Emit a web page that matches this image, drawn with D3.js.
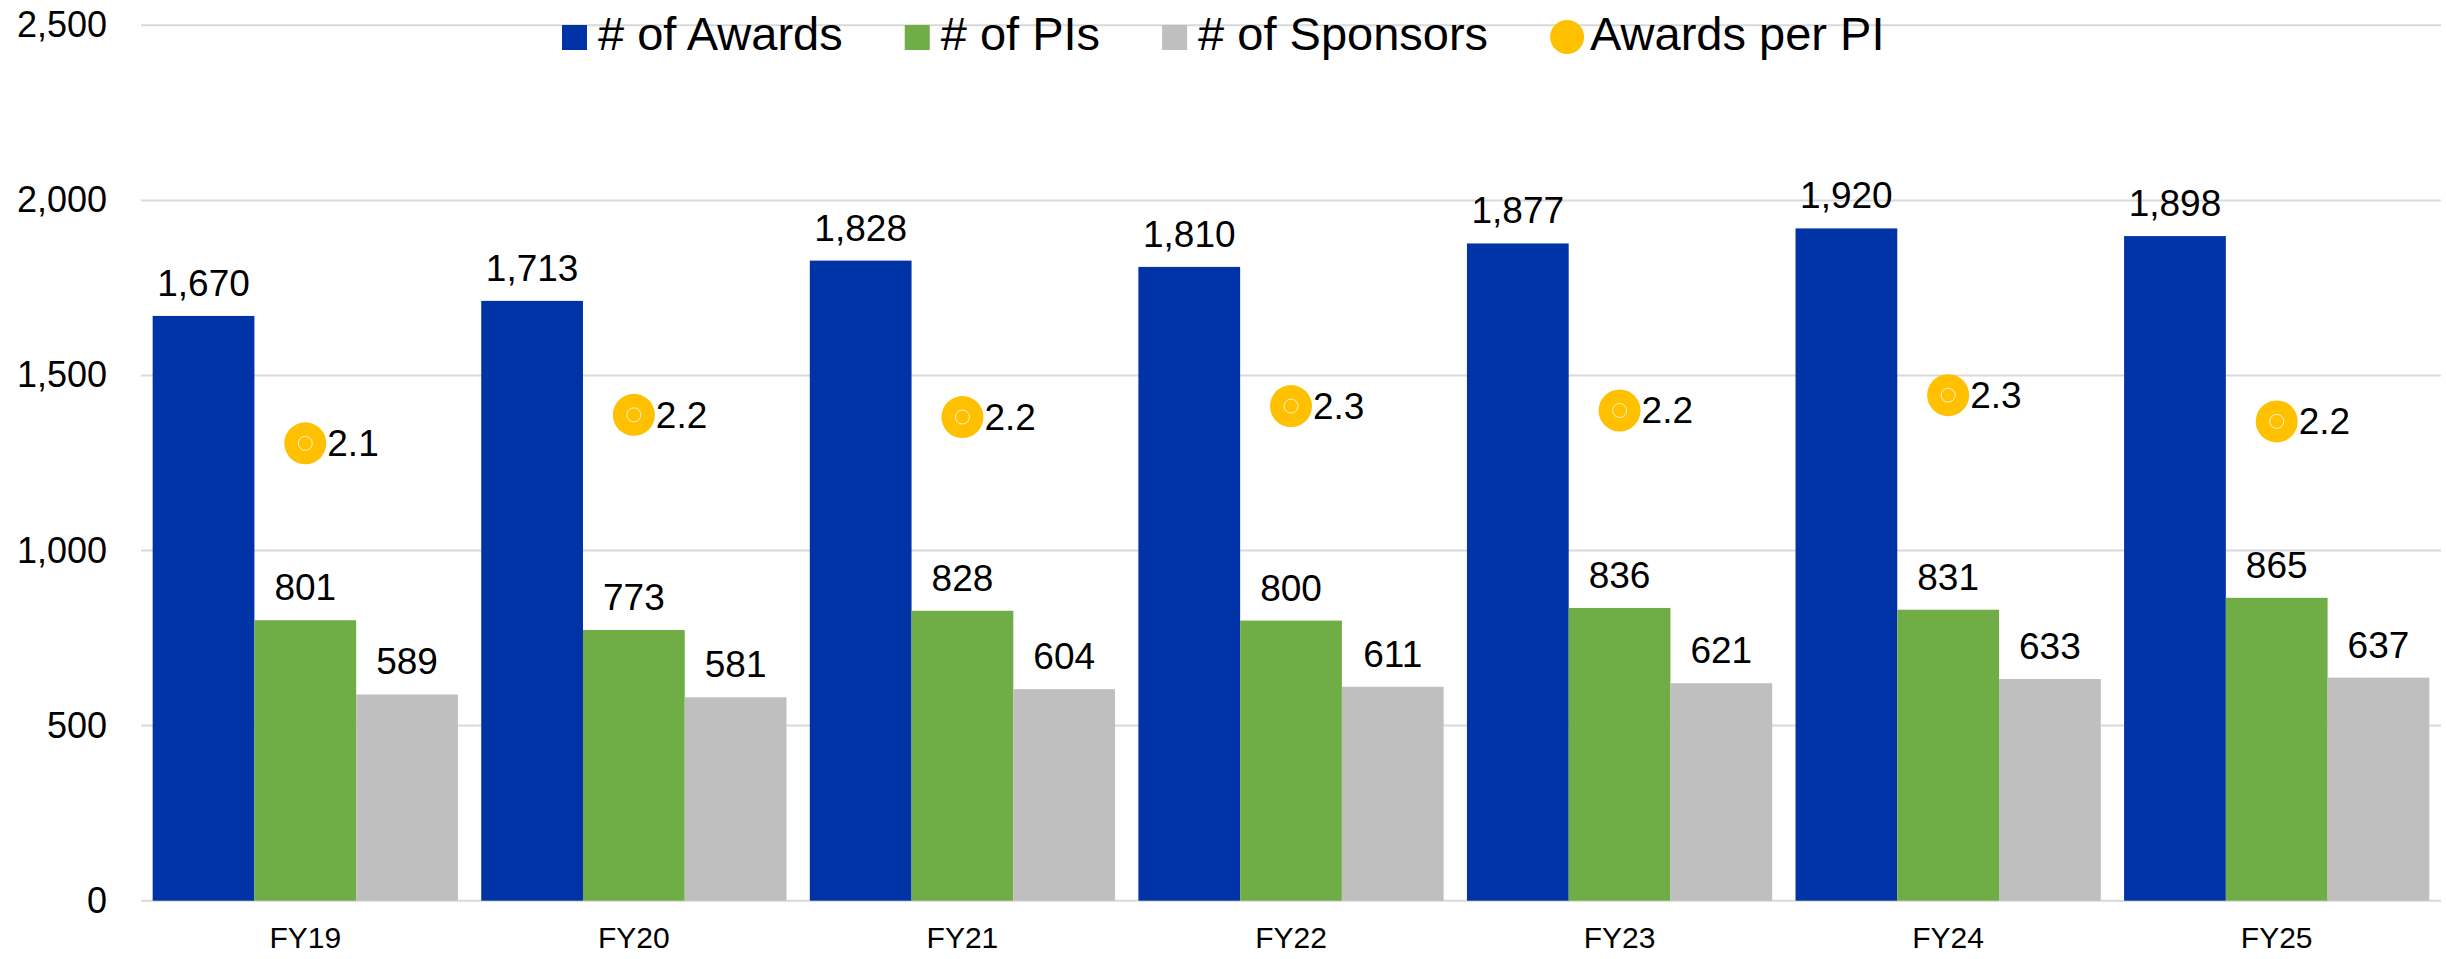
<!DOCTYPE html>
<html>
<head>
<meta charset="utf-8">
<script src="https://cdn.jsdelivr.net/npm/d3@7"></script>
<style>
  body { margin: 0; background: #fff; }
  text { font-family: "Liberation Sans", Arial, sans-serif; fill: #000; }
</style>
</head>
<body>
<div class="chart"></div>
<script>
// chart data
var years = ["FY19", "FY20", "FY21", "FY22", "FY23", "FY24", "FY25"];
var awards = [1670, 1713, 1828, 1810, 1877, 1920, 1898];
var pis = [801, 773, 828, 800, 836, 831, 865];
var sponsors = [589, 581, 604, 611, 621, 633, 637];
var awardsPerPI = [2.09, 2.22, 2.21, 2.26, 2.24, 2.31, 2.19];
var yTicks = [0, 500, 1000, 1500, 2000, 2500];

var seriesNames = ["# of Awards", "# of PIs", "# of Sponsors"];
var seriesColors = ["#0033a6", "#70ad47", "#bfbfbf"];
var lineName = "Awards per PI";
var lineColor = "#ffc000";

var svgWidth = 2446;
var svgHeight = 959;
var margin = { top: 25.3, right: 5, bottom: 58.3, left: 141 };
var width = svgWidth - margin.left - margin.right;
var height = svgHeight - margin.top - margin.bottom;

var svg = d3.select(".chart")
  .append("svg")
  .attr("width", svgWidth)
  .attr("height", svgHeight);

var chart = svg.append("g")
  .attr("transform", "translate(" + margin.left + "," + margin.top + ")");

// scales
var xScale = d3.scaleBand()
  .domain(years)
  .range([0, width])
  .paddingInner(0.071)
  .paddingOuter(0.0355);

var xSub = d3.scaleBand()
  .domain(d3.range(3))
  .range([0, xScale.bandwidth()]);

var yScale = d3.scaleLinear()
  .domain([0, 2500])
  .range([height, 0]);

// hidden secondary axis for the ratio
var y2Scale = d3.scaleLinear()
  .domain([0, 4])
  .range([height, 0]);

// gridlines
chart.append("g")
  .selectAll("line")
  .data(yTicks)
  .enter()
  .append("line")
  .attr("x1", 0)
  .attr("x2", width)
  .attr("y1", function(d) { return yScale(d); })
  .attr("y2", function(d) { return yScale(d); })
  .attr("stroke", "#d9d9d9")
  .attr("stroke-width", 2);

// y axis labels
var leftAxis = d3.axisLeft(yScale)
  .tickValues(yTicks)
  .tickSize(0)
  .tickPadding(34)
  .tickFormat(d3.format(","));

chart.append("g")
  .call(leftAxis)
  .call(function(g) { g.select(".domain").remove(); })
  .selectAll("text")
  .attr("font-size", "36px")
  .attr("font-family", "Liberation Sans, Arial, sans-serif")
  .attr("fill", "#000");

// x axis labels
var bottomAxis = d3.axisBottom(xScale).tickSize(0).tickPadding(26);

chart.append("g")
  .attr("transform", "translate(0," + height + ")")
  .call(bottomAxis)
  .call(function(g) { g.select(".domain").remove(); })
  .selectAll("text")
  .attr("font-size", "30px")
  .attr("font-family", "Liberation Sans, Arial, sans-serif")
  .attr("fill", "#000");

// bars
var rows = years.map(function(y, i) {
  return { year: y, values: [awards[i], pis[i], sponsors[i]], ratio: awardsPerPI[i] };
});

var groups = chart.selectAll(".group")
  .data(rows)
  .enter()
  .append("g")
  .attr("class", "group")
  .attr("transform", function(d) { return "translate(" + xScale(d.year) + ",0)"; });

groups.selectAll("rect")
  .data(function(d) { return d.values; })
  .enter()
  .append("rect")
  .attr("x", function(d, i) { return xSub(i); })
  .attr("y", function(d) { return yScale(d); })
  .attr("width", xSub.bandwidth())
  .attr("height", function(d) { return height - yScale(d); })
  .attr("fill", function(d, i) { return seriesColors[i]; });

groups.selectAll(".barLabel")
  .data(function(d) { return d.values; })
  .enter()
  .append("text")
  .attr("class", "barLabel")
  .attr("x", function(d, i) { return xSub(i) + xSub.bandwidth() / 2; })
  .attr("y", function(d) { return yScale(d) - 20; })
  .attr("text-anchor", "middle")
  .attr("font-size", "37px")
  .text(function(d) { return d3.format(",")(d); });

// awards per PI markers
var markers = chart.append("g")
  .selectAll("g")
  .data(rows)
  .enter()
  .append("g")
  .attr("transform", function(d) {
    return "translate(" + (xScale(d.year) + xScale.bandwidth() / 2) + "," + y2Scale(d.ratio) + ")";
  });

markers.append("circle")
  .attr("r", 21)
  .attr("fill", lineColor);

markers.append("circle")
  .attr("r", 7)
  .attr("fill", "none")
  .attr("stroke", "#fff")
  .attr("stroke-opacity", 0.8)
  .attr("stroke-width", 1);

markers.append("text")
  .attr("x", 22)
  .attr("y", 13)
  .attr("font-size", "37px")
  .text(function(d) { return d3.format(".1f")(d.ratio); });

// legend
var legend = svg.append("g").attr("transform", "translate(562,0)");
var legendItems = seriesNames.map(function(n, i) { return { name: n, color: seriesColors[i], shape: "rect" }; });
legendItems.push({ name: lineName, color: lineColor, shape: "circle" });

var lx = 0;
legendItems.forEach(function(item) {
  var g = legend.append("g").attr("transform", "translate(" + lx + ",0)");
  var symW;
  if (item.shape === "rect") {
    g.append("rect")
      .attr("x", 0)
      .attr("y", 25)
      .attr("width", 25)
      .attr("height", 25)
      .attr("fill", item.color);
    symW = 36;
  } else {
    g.append("circle")
      .attr("cx", 17)
      .attr("cy", 37)
      .attr("r", 17)
      .attr("fill", item.color);
    symW = 40;
  }
  var t = g.append("text")
    .attr("x", symW)
    .attr("y", 50)
    .attr("font-size", "47px")
    .text(item.name);
  lx += symW + t.node().getComputedTextLength() + 62;
});
</script>
</body>
</html>
